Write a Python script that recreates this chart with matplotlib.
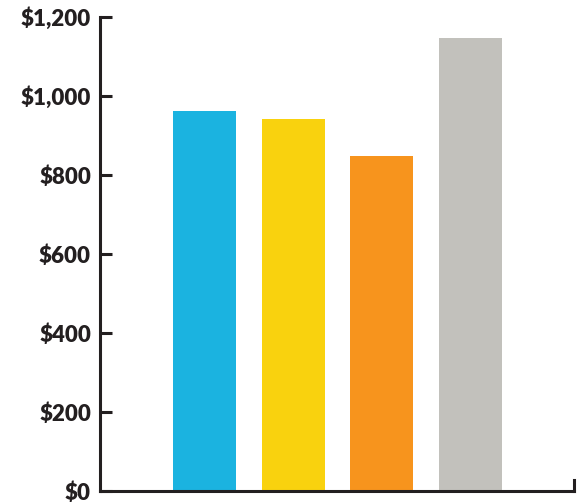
import numpy as np
import matplotlib
matplotlib.use("Agg")
import matplotlib.pyplot as plt
from matplotlib.ticker import FuncFormatter

# data
values = [962, 942, 848, 1148]
colors = ['#1bb3e0', '#f9d20e', '#f7941d', '#c2c1bc']
yticks = [0, 200, 400, 600, 800, 1000, 1200]

plt.rcParams['font.family'] = ['Lato', 'DejaVu Sans']

fig = plt.figure(figsize=(5.84, 5.04), dpi=100)
ax = fig.add_axes([100/584, 13/504, 474/584, 474/504])

x = np.arange(len(values))
ax.bar(x, values, width=0.712, color=colors, zorder=1)

ax.set_xlim(-1.18, 4.17)
ax.set_ylim(0, 1200)
ax.set_yticks(yticks)
ax.yaxis.set_major_formatter(FuncFormatter(lambda v, p: '${:,.0f}'.format(v)))
ax.set_xticks([])

ink = '#231f20'
for s in ['left', 'bottom', 'right']:
    ax.spines[s].set_color(ink)
    ax.spines[s].set_linewidth(2.2)
    ax.spines[s].set_zorder(3)
ax.spines['top'].set_visible(False)
ax.spines['right'].set_bounds(0, 28)

ax.tick_params(axis='y', direction='in', length=8.5, width=2.2, color=ink,
               pad=6.5, labelsize=16, labelcolor=ink)
for lab in ax.get_yticklabels():
    lab.set_fontweight('heavy')

fig.savefig('out.png', dpi=100)
